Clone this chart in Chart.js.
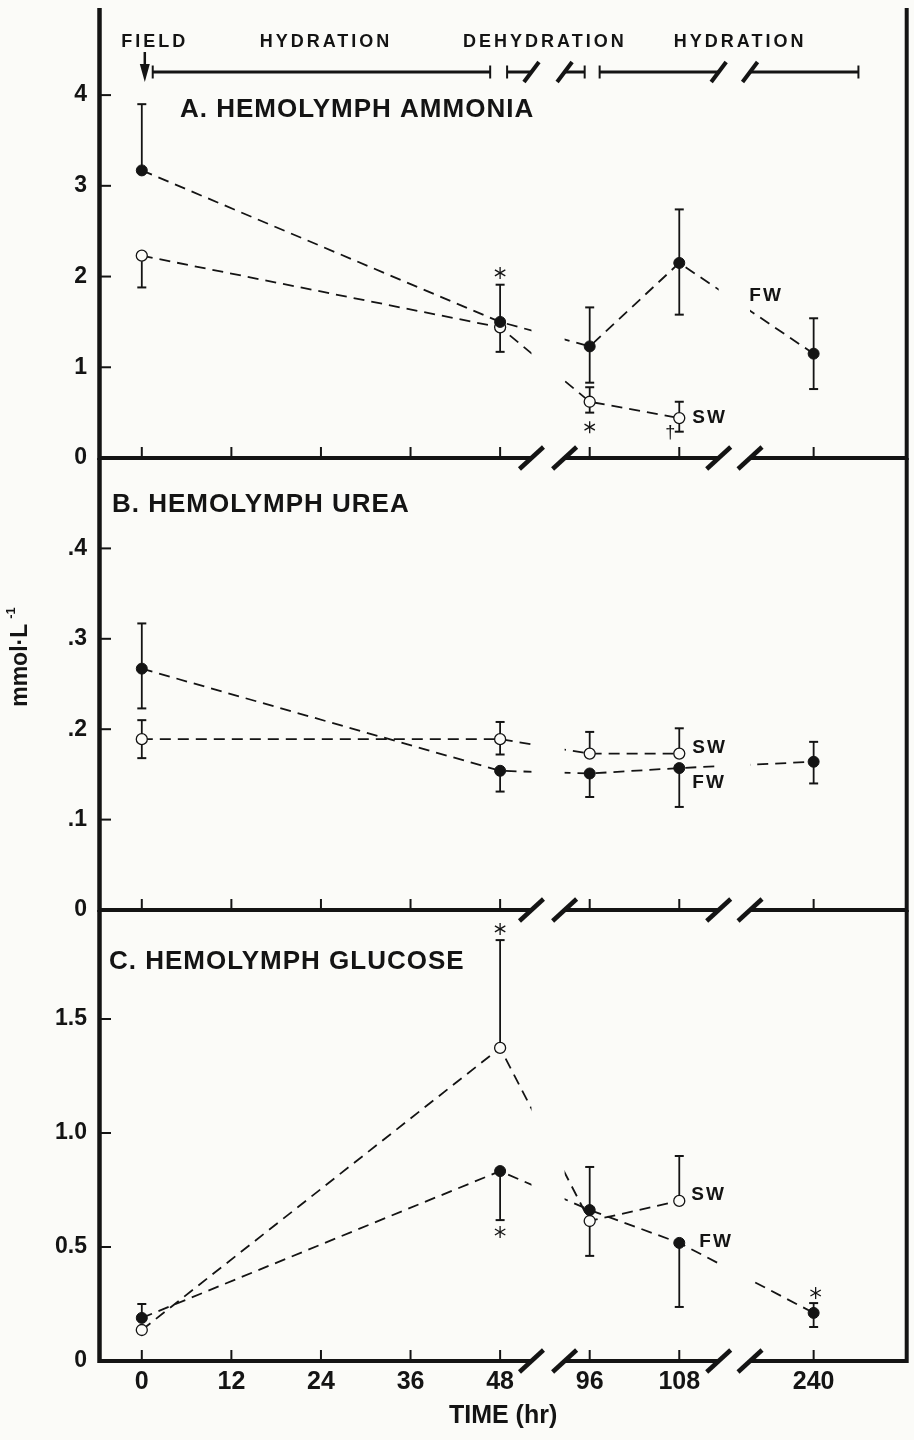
<!DOCTYPE html>
<html>
<head>
<meta charset="utf-8">
<script src="https://cdn.jsdelivr.net/npm/chart.js@4.4.1/dist/chart.umd.min.js"></script>
<style>
  body { margin: 0; background: #fbfbf8; }
  #wrap { position: relative; width: 914px; height: 1440px; overflow: hidden; }
  canvas { position: absolute; left: 0; }
</style>
</head>
<body>
<div id="wrap">
  <canvas id="cA" width="914" height="482" style="top:-10px"></canvas>
  <canvas id="cB" width="914" height="480" style="top:444px"></canvas>
  <canvas id="cC" width="914" height="544" style="top:896px"></canvas>
</div>
<script>
const INK = '#141414';
const BG = '#fbfbf8';
const FONT = "'Liberation Sans', Arial, Helvetica, sans-serif";

// sampling times and the broken time axis
const hours = [0, 48, 96, 108, 240];
const xTickHours = [0, 12, 24, 36, 48, 96, 108, 240];
const xTickLabels = ['0', '12', '24', '36', '48', '96', '108', '240'];
const xTickSlots = [0, 1, 2, 3, 4, 5, 6, 7.5];
const breakSlots = [[4.35, 4.72], [6.44, 6.79]];

const stageLabels = ['FIELD', 'HYDRATION', 'DEHYDRATION', 'HYDRATION'];

// A. ammonia (mmol/L)
const ammoniaFW   = [3.17, 1.50, 1.23, 2.15, 1.15];
const ammoniaFWHi = [3.90, 1.91, 1.66, 2.74, 1.54];
const ammoniaFWLo = [null, 1.17, 0.83, 1.58, 0.76];
const ammoniaSW   = [2.23, 1.44, 0.62, 0.44, null];
const ammoniaSWHi = [null, null, 0.78, 0.62, null];
const ammoniaSWLo = [1.88, null, 0.50, 0.29, null];
const ammoniaTicks = [0, 1, 2, 3, 4];
const ammoniaTickLabels = ['0', '1', '2', '3', '4'];

// B. urea
const ureaFW   = [0.267, 0.154, 0.151, 0.157, 0.164];
const ureaFWHi = [0.317, null, null, null, 0.186];
const ureaFWLo = [0.223, 0.131, 0.125, 0.114, 0.140];
const ureaSW   = [0.189, 0.189, 0.173, 0.173, null];
const ureaSWHi = [0.210, 0.208, 0.197, 0.201, null];
const ureaSWLo = [0.168, 0.172, null, null, null];
const ureaTicks = [0, 0.1, 0.2, 0.3, 0.4];
const ureaTickLabels = ['0', '.1', '.2', '.3', '.4'];

// C. glucose
const glucoseFW   = [0.189, 0.833, 0.662, 0.518, 0.211];
const glucoseFWHi = [0.250, null, 0.851, null, 0.254];
const glucoseFWLo = [null, 0.618, null, 0.237, 0.149];
const glucoseSW   = [0.136, 1.373, 0.614, 0.702, null];
const glucoseSWHi = [null, 1.846, null, 0.899, null];
const glucoseSWLo = [null, null, 0.461, null, null];
const glucoseTicks = [0, 0.5, 1.0, 1.5];
const glucoseTickLabels = ['0', '0.5', '1.0', '1.5'];

Chart.defaults.font.family = FONT;
Chart.defaults.color = INK;

function slot(h) { return xTickSlots[xTickHours.indexOf(h)]; }

function seg(ctx, x1, y1, x2, y2) { ctx.beginPath(); ctx.moveTo(x1, y1); ctx.lineTo(x2, y2); ctx.stroke(); }

function slash(ctx, cx, cy, dx, dy, lw) {
  ctx.lineWidth = lw;
  seg(ctx, cx - dx, cy + dy, cx + dx, cy - dy);
}

function star(ctx, cx, cy, r) {
  ctx.lineWidth = 1.3;
  for (let k = 0; k < 3; k++) {
    const a = Math.PI / 2 + k * Math.PI / 3;
    seg(ctx, cx + r * Math.cos(a), cy + r * Math.sin(a), cx - r * Math.cos(a), cy - r * Math.sin(a));
  }
}

function errBar(ctx, pt, val, y) {
  if (val == null || !pt || pt.skip) return;
  const py = y.getPixelForValue(val);
  ctx.lineWidth = 1.8;
  seg(ctx, pt.x, pt.y, pt.x, py);
  ctx.lineWidth = 2;
  seg(ctx, pt.x - 4.5, py, pt.x + 4.5, py);
}

function drawStages(ctx, x, cy) {
  ctx.save();
  ctx.fillStyle = INK; ctx.strokeStyle = INK;
  ctx.font = 'bold 18px ' + FONT;
  ctx.letterSpacing = '3px';
  ctx.textAlign = 'center'; ctx.textBaseline = 'middle';
  [0.144, 2.056, 4.5, 6.68].forEach((s, i) => ctx.fillText(stageLabels[i], x.getPixelForValue(s), cy(42)));
  ctx.letterSpacing = '0px';
  // arrow at field sampling
  const ax = x.getPixelForValue(0) + 3;
  ctx.lineWidth = 2.5;
  seg(ctx, ax, cy(52), ax, cy(68));
  ctx.beginPath(); ctx.moveTo(ax - 5, cy(64)); ctx.lineTo(ax + 5, cy(64)); ctx.lineTo(ax, cy(82)); ctx.closePath(); ctx.fill();
  const by = cy(72);
  const bars = [[0.122, 3.889, 'cap', 'cap'], [4.078, 4.35, 'cap', 'slash'], [4.72, 4.944, 'slash', 'cap'],
                [5.111, 6.44, 'cap', 'slash'], [6.79, 8.0, 'slash', 'cap']];
  bars.forEach(([a, b, ea, eb]) => {
    const pa = x.getPixelForValue(a), pb = x.getPixelForValue(b);
    ctx.lineWidth = 3; seg(ctx, pa, by, pb, by);
    [[pa, ea], [pb, eb]].forEach(([px, e]) => {
      if (e === 'cap') { ctx.lineWidth = 2; seg(ctx, px, by - 6.5, px, by + 6.5); }
      else slash(ctx, px, by, 7.5, 10, 4);
    });
  });
  ctx.restore();
}

function makePanel(id, p) {
  const cy = v => v - p.top;
  const deco = {
    id: 'panelDeco',
    beforeDatasetsDraw(chart) {
      const { ctx, chartArea: ca, scales: { x, y } } = chart;
      ctx.save();
      ctx.strokeStyle = INK;
      chart.data.datasets.forEach((ds, di) => {
        const meta = chart.getDatasetMeta(di);
        ds.errHi.forEach((v, i) => errBar(ctx, meta.data[i], v, y));
        ds.errLo.forEach((v, i) => errBar(ctx, meta.data[i], v, y));
      });
      ctx.restore();
      // leave the axis breaks empty
      ctx.save();
      ctx.beginPath();
      ctx.rect(ca.left - 10, ca.top - 10, ca.width + 20, ca.height + 20);
      breakSlots.forEach(([a, b]) => {
        const pa = x.getPixelForValue(a), pb = x.getPixelForValue(b);
        ctx.rect(pa, ca.top - 10, pb - pa, ca.height + 20);
      });
      ctx.clip('evenodd');
    },
    afterDatasetsDraw(chart) {
      chart.ctx.restore();
    },
    afterDraw(chart) {
      const { ctx, chartArea: ca, scales: { x, y } } = chart;
      ctx.save();
      ctx.strokeStyle = INK; ctx.fillStyle = INK; ctx.lineCap = 'butt';
      // frame
      ctx.lineWidth = 4.5;
      seg(ctx, ca.left + 0.5, ca.top, ca.left + 0.5, ca.bottom + 2);
      ctx.lineWidth = 4;
      seg(ctx, ca.right - 0.5, ca.top, ca.right - 0.5, ca.bottom + 2);
      // broken bottom axis
      const by = ca.bottom;
      const b = breakSlots.map(([a, c]) => [x.getPixelForValue(a), x.getPixelForValue(c)]);
      ctx.lineWidth = 4;
      seg(ctx, ca.left, by, b[0][0], by);
      seg(ctx, b[0][1], by, b[1][0], by);
      seg(ctx, b[1][1], by, ca.right, by);
      b.forEach(([a, c]) => { slash(ctx, a, by, 12, 11, 4.5); slash(ctx, c, by, 12, 11, 4.5); });
      ctx.lineWidth = 2;
      xTickSlots.forEach(s => { const px = x.getPixelForValue(s); seg(ctx, px, by, px, by - 11); });
      p.yTicks.forEach(v => { if (v > 0) { const py = y.getPixelForValue(v); seg(ctx, ca.left, py, ca.left + 12, py); } });
      // panel title
      ctx.font = 'bold 26px ' + FONT;
      ctx.letterSpacing = '1px';
      ctx.textAlign = 'left'; ctx.textBaseline = 'middle';
      ctx.fillText(p.title, p.titleX, cy(p.titleY));
      // notes
      p.notes.forEach(n => {
        const px = x.getPixelForValue(slot(n.h)) + (n.dx || 0);
        const py = y.getPixelForValue(n.v);
        if (n.star) { star(ctx, px, py, 6); return; }
        if (n.text === '†') {
          ctx.font = '18px ' + FONT; ctx.letterSpacing = '0px'; ctx.textAlign = 'center';
        } else {
          ctx.font = 'bold 19px ' + FONT; ctx.letterSpacing = '2px'; ctx.textAlign = 'left';
        }
        ctx.fillText(n.text, px, py);
      });
      ctx.letterSpacing = '0px';
      ctx.restore();
      if (p.stages) drawStages(ctx, x, cy);
      if (p.unitLabel) {
        ctx.save();
        ctx.fillStyle = INK;
        ctx.translate(21, cy(657));
        ctx.rotate(-Math.PI / 2);
        const main = 'mmol·L', sup = '-1';
        ctx.font = 'bold 23px ' + FONT;
        const w1 = ctx.measureText(main).width;
        ctx.font = 'bold 13px ' + FONT;
        const w2 = ctx.measureText(sup).width + 5;
        ctx.textBaseline = 'middle'; ctx.textAlign = 'left';
        ctx.font = 'bold 23px ' + FONT;
        ctx.fillText(main, -(w1 + w2) / 2, 0);
        ctx.font = 'bold 13px ' + FONT;
        ctx.fillText(sup, -(w1 + w2) / 2 + w1 + 5, -10);
        ctx.restore();
      }
    }
  };

  const common = { borderColor: INK, borderWidth: 1.8, borderDash: [11, 7], tension: 0, fill: false,
                   pointRadius: 5.5, pointBorderColor: INK, pointHoverRadius: 5.5 };
  const datasets = [
    Object.assign({}, common, {
      label: 'FW', data: hours.map((h, i) => ({ x: slot(h), y: p.fw[i] })),
      errHi: p.fwHi, errLo: p.fwLo, pointBackgroundColor: INK, pointBorderWidth: 1
    }),
    Object.assign({}, common, {
      label: 'SW', data: hours.map((h, i) => ({ x: slot(h), y: p.sw[i] })),
      errHi: p.swHi, errLo: p.swLo, pointBackgroundColor: BG, pointBorderWidth: 1.3
    })
  ];

  new Chart(document.getElementById(id), {
    type: 'line',
    data: { datasets },
    plugins: [deco],
    options: {
      responsive: false,
      animation: false,
      events: [],
      layout: { padding: { top: p.padTop, bottom: p.padBottom, left: 0, right: 3 } },
      plugins: { legend: { display: false }, tooltip: { enabled: false } },
      scales: {
        x: {
          type: 'linear', min: (99 - 142) / 90, max: (911 - 142) / 90,
          display: p.showX,
          grid: { display: false, drawTicks: false }, border: { display: false },
          afterBuildTicks: s => { s.ticks = xTickSlots.map(v => ({ value: v })); },
          afterFit: s => { if (p.showX) s.height = 79; },
          ticks: { autoSkip: false, maxRotation: 0, padding: 6, color: INK,
                   font: { size: 25, weight: 'bold' },
                   callback: (v, i) => xTickLabels[i] },
          title: { display: true, text: 'TIME (hr)', color: INK,
                   font: { size: 25, weight: 'bold' }, padding: { top: 0, bottom: 9 } }
        },
        y: {
          type: 'linear', min: 0, max: p.yMax,
          grid: { display: false, drawTicks: false }, border: { display: false },
          afterBuildTicks: s => { s.ticks = p.yTicks.map(v => ({ value: v })); },
          afterFit: s => { s.width = 99; s.paddingTop = 0; s.paddingBottom = 0; },
          ticks: { padding: 12, color: INK, font: { size: 23, weight: 'bold' },
                   callback: (v, i) => p.yLabels[i] }
        }
      }
    }
  });
}

makePanel('cA', {
  top: -10, padTop: 18, padBottom: 14, showX: false, stages: true,
  yMax: 4.96, yTicks: ammoniaTicks, yLabels: ammoniaTickLabels,
  fw: ammoniaFW, fwHi: ammoniaFWHi, fwLo: ammoniaFWLo,
  sw: ammoniaSW, swHi: ammoniaSWHi, swLo: ammoniaSWLo,
  title: 'A. HEMOLYMPH AMMONIA', titleX: 180, titleY: 110,
  notes: [
    { h: 48, v: 2.04, star: true },
    { h: 96, v: 0.34, star: true },
    { h: 108, v: 0.275, dx: -9, text: '†' },
    { h: 108, v: 0.44, dx: 13, text: 'SW' },
    { h: 108, v: 1.785, dx: 70, text: 'FW' }
  ]
});

makePanel('cB', {
  top: 444, padTop: 14, padBottom: 14, showX: false, unitLabel: true,
  yMax: 0.5, yTicks: ureaTicks, yLabels: ureaTickLabels,
  fw: ureaFW, fwHi: ureaFWHi, fwLo: ureaFWLo,
  sw: ureaSW, swHi: ureaSWHi, swLo: ureaSWLo,
  title: 'B. HEMOLYMPH UREA', titleX: 112, titleY: 505,
  notes: [
    { h: 108, v: 0.179, dx: 13, text: 'SW' },
    { h: 108, v: 0.141, dx: 13, text: 'FW' }
  ]
});

makePanel('cC', {
  top: 896, padTop: 14, padBottom: 0, showX: true,
  yMax: 1.978, yTicks: glucoseTicks, yLabels: glucoseTickLabels,
  fw: glucoseFW, fwHi: glucoseFWHi, fwLo: glucoseFWLo,
  sw: glucoseSW, swHi: glucoseSWHi, swLo: glucoseSWLo,
  title: 'C. HEMOLYMPH GLUCOSE', titleX: 109, titleY: 962,
  notes: [
    { h: 48, v: 1.895, star: true },
    { h: 48, v: 0.566, star: true },
    { h: 240, v: 0.298, dx: 2, star: true },
    { h: 108, v: 0.728, dx: 12, text: 'SW' },
    { h: 108, v: 0.522, dx: 20, text: 'FW' }
  ]
});
</script>
</body>
</html>
